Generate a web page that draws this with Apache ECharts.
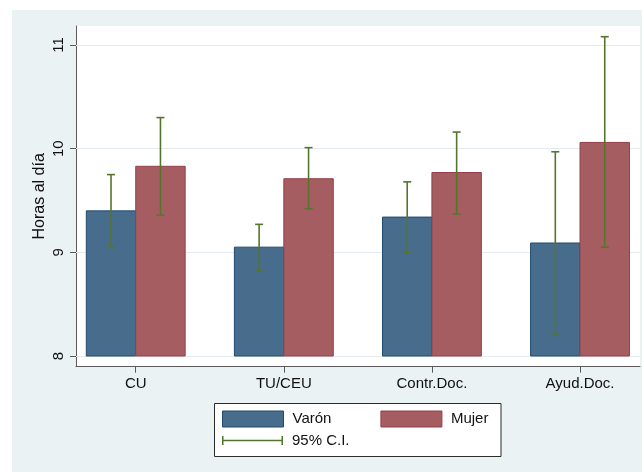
<!DOCTYPE html>
<html>
<head>
<meta charset="utf-8">
<script src="https://cdn.jsdelivr.net/npm/echarts@6/dist/echarts.min.js"></script>
<style>
  html, body { margin: 0; padding: 0; background: #ffffff; }
  #chart { width: 642px; height: 472px; }
</style>
</head>
<body>
<div id="chart"></div>
<script>
// Daily working hours by academic category and sex, with 95% confidence intervals
const categories = ['CU', 'TU/CEU', 'Contr.Doc.', 'Ayud.Doc.'];
const varon   = [9.40, 9.05, 9.34, 9.09];
const mujer   = [9.83, 9.71, 9.77, 10.06];
const varonLo = [9.05, 8.82, 9.00, 8.20];
const varonHi = [9.75, 9.27, 9.68, 9.97];
const mujerLo = [9.36, 9.42, 9.37, 9.05];
const mujerHi = [10.30, 10.01, 10.16, 11.08];
const yTicks  = [8, 9, 10, 11];
const xTicks  = [1, 2, 3, 4];

const FONT = 'Liberation Sans, Arial, Helvetica, sans-serif';
const BAR_W = 0.3338;      // bar width in x-axis units
const BAR_BASE = 8;        // bars rise from this value
const COL_V = '#486c8c', COL_V_EDGE = '#1f4a6f';
const COL_M = '#a65d62', COL_M_EDGE = '#93404a';
const COL_CI = '#55752f';

function barSeries(name, values, side, fill, edge) {
  return {
    name: name,
    type: 'custom',
    z: 3,
    itemStyle: { color: fill },
    data: values.map((v, i) => [xTicks[i], v]),
    renderItem: function (params, api) {
      const x = api.value(0);
      const v = api.value(1);
      const left = side < 0 ? x - BAR_W : x;
      const right = side < 0 ? x : x + BAR_W;
      const pTL = api.coord([left, v]);
      const pBR = api.coord([right, BAR_BASE]);
      return {
        type: 'rect',
        shape: { x: pTL[0], y: pTL[1], width: pBR[0] - pTL[0], height: pBR[1] - pTL[1] },
        style: { fill: fill, stroke: edge, lineWidth: 1 }
      };
    }
  };
}

const ciData = [];
categories.forEach((c, i) => {
  ciData.push([xTicks[i], varonLo[i], varonHi[i], -1]);
  ciData.push([xTicks[i], mujerLo[i], mujerHi[i], 1]);
});

const chart = echarts.init(document.getElementById('chart'), null, { renderer: 'canvas' });

chart.setOption({
  backgroundColor: '#eaf2f3',
  animation: false,
  textStyle: { fontFamily: FONT },
  graphic: [
    { type: 'rect', z: 1, shape: { x: 0, y: 0, width: 12, height: 472 }, style: { fill: '#ffffff' } },
    { type: 'rect', z: 1, shape: { x: 0, y: 0, width: 642, height: 10 }, style: { fill: '#ffffff' } },
    { type: 'rect', z: 1, shape: { x: 214.5, y: 403.5, width: 286.5, height: 53 },
      style: { fill: '#ffffff', stroke: '#2b2b2b', lineWidth: 1 } }
  ],
  grid: {
    left: 76, right: 2, top: 26, bottom: 105.3,
    show: true, backgroundColor: '#ffffff', borderWidth: 0
  },
  xAxis: {
    type: 'value',
    min: 0.5966, max: 4.405,
    axisLine: { show: true, onZero: false, lineStyle: { color: '#5a5a5a', width: 1 } },
    axisTick: { show: true, length: 6, customValues: xTicks, lineStyle: { color: '#5a5a5a' } },
    axisLabel: {
      customValues: xTicks, margin: 10, fontSize: 15, color: '#111', fontFamily: FONT,
      formatter: v => categories[Math.round(v) - 1]
    },
    splitLine: { show: false }
  },
  yAxis: {
    type: 'value',
    min: 7.8968, max: 11.1833,
    name: 'Horas al día',
    nameLocation: 'middle', nameRotate: 90, nameGap: 28, nameMoveOverlap: false,
    nameTextStyle: { fontSize: 16, color: '#111', fontFamily: FONT },
    axisLine: { show: true, lineStyle: { color: '#5a5a5a', width: 1 } },
    axisTick: { show: true, length: 6, customValues: yTicks, lineStyle: { color: '#5a5a5a' } },
    axisLabel: { customValues: yTicks, rotate: 90, margin: 10, fontSize: 15, color: '#111', fontFamily: FONT },
    splitLine: { show: false }
  },
  legend: [
    {
      data: [
        { name: 'Varón', icon: 'rect', itemStyle: { color: COL_V, borderColor: COL_V_EDGE, borderWidth: 1 } },
        { name: 'Mujer', icon: 'rect', itemStyle: { color: COL_M, borderColor: COL_M_EDGE, borderWidth: 1 } }
      ],
      left: 222, top: 410.5, padding: 0,
      itemWidth: 61, itemHeight: 16, itemGap: 49,
      selectedMode: false, z: 5,
      textStyle: { fontSize: 15, color: '#111', fontFamily: FONT, padding: [0, 0, 0, 4] }
    },
    {
      data: [
        { name: '95% C.I.',
          icon: 'path://M0,0 H1.5 V3.3 H58.5 V0 H60 V8 H58.5 V4.7 H1.5 V8 H0 Z',
          itemStyle: { color: COL_CI } }
      ],
      left: 222, top: 433, padding: 0,
      itemWidth: 61, itemHeight: 9, symbolKeepAspect: false,
      selectedMode: false, z: 5,
      textStyle: { fontSize: 15, color: '#111', fontFamily: FONT, padding: [0, 0, 0, 4] }
    }
  ],
  series: [
    {
      name: 'grid',
      type: 'line',
      data: [],
      z: 1,
      silent: true,
      markLine: {
        silent: true, symbol: 'none', animation: false, z: 1,
        label: { show: false },
        lineStyle: { color: '#e3ebee', width: 1.2, type: 'solid' },
        data: yTicks.map(t => ({ yAxis: t }))
      }
    },
    barSeries('Varón', varon, -1, COL_V, COL_V_EDGE),
    barSeries('Mujer', mujer, 1, COL_M, COL_M_EDGE),
    {
      name: '95% C.I.',
      type: 'custom',
      z: 4,
      itemStyle: { color: COL_CI },
      data: ciData,
      renderItem: function (params, api) {
        const side = api.value(3);
        const xc = api.value(0) + side * BAR_W / 2;
        const pLo = api.coord([xc, api.value(1)]);
        const pHi = api.coord([xc, api.value(2)]);
        const half = 4;
        const st = { stroke: COL_CI, lineWidth: 1.6 };
        return {
          type: 'group',
          children: [
            { type: 'line', shape: { x1: pLo[0], y1: pLo[1], x2: pHi[0], y2: pHi[1] }, style: st },
            { type: 'line', shape: { x1: pLo[0] - half, y1: pLo[1], x2: pLo[0] + half, y2: pLo[1] }, style: st },
            { type: 'line', shape: { x1: pHi[0] - half, y1: pHi[1], x2: pHi[0] + half, y2: pHi[1] }, style: st }
          ]
        };
      }
    }
  ]
});
</script>
</body>
</html>
